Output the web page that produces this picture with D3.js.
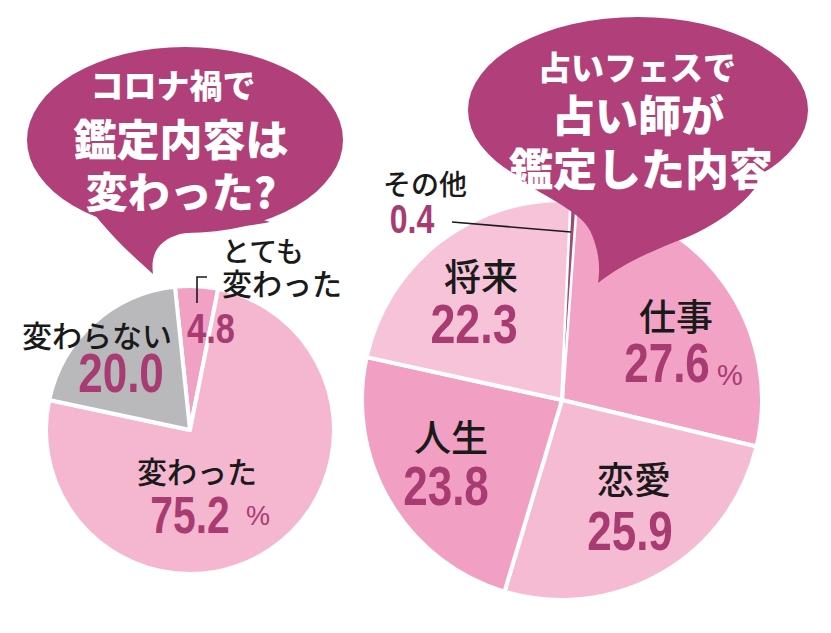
<!DOCTYPE html>
<html><head><meta charset="utf-8">
<script src="https://cdn.jsdelivr.net/npm/d3@7"></script>
<style>
html,body{margin:0;padding:0;background:#fff;}
svg{display:block;}
</style></head>
<body>
<svg id="c" width="831" height="633"></svg>
<script>
// ---- data ----
const leftCategories = ["とても変わった", "変わった", "変わらない"];
const leftValues = [4.8, 75.2, 20.0];
const rightCategories = ["仕事", "恋愛", "人生", "将来", "その他"];
const rightValues = [27.6, 25.9, 23.8, 22.3, 0.4];
const leftTitle = ["コロナ禍で", "鑑定内容は", "変わった?"];
const rightTitle = ["占いフェスで", "占い師が", "鑑定した内容"];

// ---- styles ----
const MAG = "#b13f79";
const NUM = "#a93b73";
const CJK = "'Noto Sans CJK JP','Noto Sans',sans-serif";
const NUMF = "'Liberation Sans',Arial,sans-serif";

const svg = d3.select("#c");
const defs = svg.append("defs");
function radial(id, cx, cy, r, inner, outer) {
  const g = defs.append("radialGradient").attr("id", id)
    .attr("gradientUnits", "userSpaceOnUse")
    .attr("cx", cx).attr("cy", cy).attr("r", r);
  g.append("stop").attr("offset", "0%").attr("stop-color", inner);
  g.append("stop").attr("offset", "100%").attr("stop-color", outer);
  return `url(#${id})`;
}

// ---- left pie ----
const L = {cx: 190, cy: 430, r: 144};
const leftFills = [
  "#f0a1c4",
  radial("gL1", 245, 415, 175, "#fce6ef", "#f5b7cf"),
  "#b9b9bc"
];
const pieL = d3.pie().sort(null).value(d => d)
  .startAngle(-6 * Math.PI / 180).endAngle(-6 * Math.PI / 180 + 2 * Math.PI);
const arcL = d3.arc().innerRadius(0).outerRadius(L.r);
const gL = svg.append("g").attr("transform", `translate(${L.cx},${L.cy})`);
gL.selectAll("path").data(pieL(leftValues)).join("path")
  .attr("d", arcL)
  .attr("fill", (d, i) => leftFills[i])
  .attr("stroke", "#fff").attr("stroke-width", 4).attr("stroke-linejoin", "round");

// ---- right pie ----
const R = {cx: 562, cy: 400, r: 200};
const rightFills = [
  radial("gR0", 575, 400, 200, "#f9d2e3", "#f2a2c5"),
  radial("gR1", 560, 410, 200, "#f9d6e5", "#f5bbd3"),
  radial("gR2", 562, 400, 200, "#f5b9d3", "#f1a0c4"),
  "#f6c3d8",
  "#9c4c76"
];
const pieR = d3.pie().sort(null).value(d => d)
  .startAngle(4.1 * Math.PI / 180).endAngle(4.1 * Math.PI / 180 + 2 * Math.PI);
const arcR = d3.arc().innerRadius(0).outerRadius(R.r);
const gR = svg.append("g").attr("transform", `translate(${R.cx},${R.cy})`);
const arcsR = pieR(rightValues);
gR.selectAll("path.s").data(arcsR.slice(0, 4)).join("path").attr("class", "s")
  .attr("d", arcR)
  .attr("fill", (d, i) => rightFills[i])
  .attr("stroke", "#fff").attr("stroke-width", 4).attr("stroke-linejoin", "round");
// thin "その他" wedge
gR.append("path").datum(arcsR[4]).attr("d", d3.arc().innerRadius(0).outerRadius(R.r - 2))
  .attr("fill", rightFills[4]).attr("stroke", "#fff").attr("stroke-width", 1.2);

// ---- bubbles ----
function bubble(ellipse, tail) {
  const g = svg.append("g");
  g.append("ellipse").attr("cx", ellipse.cx).attr("cy", ellipse.cy)
    .attr("rx", ellipse.rx).attr("ry", ellipse.ry).attr("fill", MAG);
  g.append("path").attr("d", tail).attr("fill", MAG);
  return g;
}
bubble({cx: 185, cy: 140, rx: 158, ry: 93},
  "M 95,215 C 115,240 135,258 153,274 C 150,252 160,240 180,234 C 210,228 240,228 270,222 L 200,200 Z");
bubble({cx: 638, cy: 110, rx: 170, ry: 93},
  "M 520,180 C 560,205 585,215 592,235 C 600,255 600,270 598,283 C 625,262 650,252 690,236 C 720,222 745,205 765,175 L 640,150 Z");

function lines(texts, xs, ys, sizes) {
  texts.forEach((t, i) => {
    svg.append("text").attr("x", xs[i]).attr("y", ys[i])
      .attr("text-anchor", "middle").attr("dominant-baseline", "central")
      .attr("font-family", CJK).attr("font-weight", 900)
      .attr("font-size", sizes[i]).attr("fill", "#fff").text(t);
  });
}
lines(leftTitle, [173, 181, 181], [84, 137, 189], [33, 43, 42]);
lines(rightTitle, [637, 638, 641], [66, 113, 167], [33, 43, 44]);

// ---- labels ----
function jp(t, x, y, size, anchor) {
  svg.append("text").attr("x", x).attr("y", y)
    .attr("text-anchor", anchor || "middle").attr("dominant-baseline", "central")
    .attr("font-family", CJK).attr("font-weight", 500)
    .attr("font-size", size).attr("fill", "#1a1a1a").text(t);
}
function num(t, x, y, size, anchor) {
  svg.append("text")
    .attr("transform", `translate(${x},${y}) scale(0.8,1)`)
    .attr("text-anchor", anchor || "middle")
    .attr("font-family", NUMF).attr("font-weight", 700)
    .attr("font-size", size).attr("fill", NUM).text(t);
}
function pct(x, y, size) {
  svg.append("text").attr("x", x).attr("y", y)
    .attr("font-family", NUMF).attr("font-weight", 400)
    .attr("font-size", size).attr("fill", NUM).text("%");
}
const f1 = d3.format(".1f");

// left
jp("変わらない", 97, 334, 30);
num(f1(leftValues[2]), 121, 392, 55);
num(f1(leftValues[0]), 211, 343, 43);
jp("とても", 222, 250, 28, "start");
jp("変わった", 222, 282, 30, "start");
svg.append("path").attr("d", "M 207,277 H 197 V 303")
  .attr("fill", "none").attr("stroke", "#1a1a1a").attr("stroke-width", 1.6);
jp(leftCategories[1], 197, 470, 30);
num(f1(leftValues[1]), 190, 533, 51);
pct(246, 525, 27);

// right
jp(rightCategories[4], 383, 183, 28, "start");
num(f1(rightValues[4]), 412, 233, 40);
svg.append("path").attr("d", "M 452,222 L 571,232")
  .attr("fill", "none").attr("stroke", "#1a1a1a").attr("stroke-width", 1.6);
jp(rightCategories[3], 481, 275, 37);
num(f1(rightValues[3]), 474, 343, 56);
jp(rightCategories[0], 676, 315, 37);
num(f1(rightValues[0]), 667, 382, 55);
pct(717, 385, 29);
jp(rightCategories[2], 451, 436, 37);
num(f1(rightValues[2]), 446, 505, 55);
jp(rightCategories[1], 634, 478, 37);
num(f1(rightValues[1]), 630, 550, 55);
</script>
</body></html>
